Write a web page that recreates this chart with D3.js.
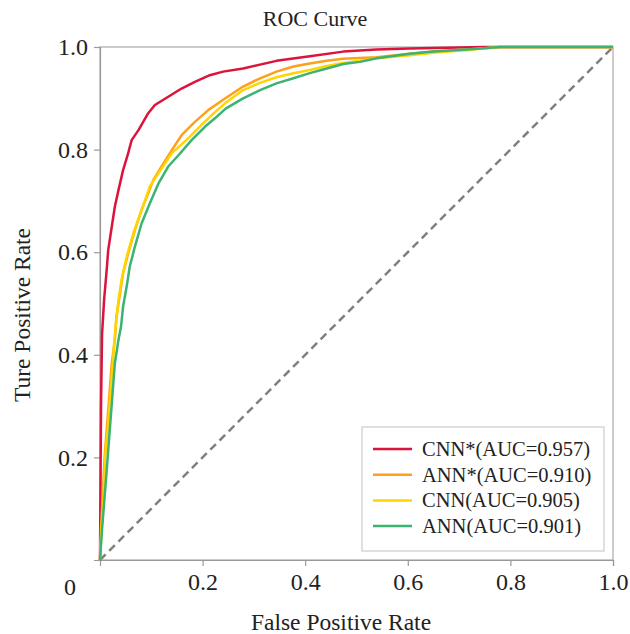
<!DOCTYPE html>
<html>
<head>
<meta charset="utf-8">
<script src="https://cdn.jsdelivr.net/npm/d3@7"></script>
<style>
  body { margin: 0; background: #fff; }
  text { font-family: "Liberation Serif", "DejaVu Serif", serif; fill: #222; }
</style>
</head>
<body>
<svg id="roc" width="630" height="634"></svg>
<script>
// ROC points: [false positive rate, true positive rate]
var cnnStar = [[0,0],[0.001,0.15],[0.002,0.30],[0.004,0.44],[0.008,0.507],[0.013,0.565],[0.016,0.604],
    [0.023,0.65],[0.029,0.689],[0.036,0.721],[0.045,0.76],[0.055,0.793],[0.058,0.805],[0.062,0.819],[0.075,0.838],
    [0.094,0.871],[0.107,0.887],[0.133,0.903],[0.159,0.919],[0.185,0.932],[0.214,0.945],[0.24,0.952],
    [0.279,0.958],[0.344,0.973],[0.409,0.982],[0.474,0.991],[0.539,0.995],[0.604,0.997],[0.70,0.999],
    [0.75,1],[1,1]];
var annStar = [[0,0],[0.002,0.06],[0.005,0.12],[0.009,0.2],[0.013,0.253],[0.018,0.318],[0.023,0.384],
    [0.029,0.429],[0.032,0.474],[0.039,0.52],[0.045,0.559],[0.055,0.598],[0.068,0.643],[0.081,0.682],
    [0.094,0.715],[0.104,0.741],[0.12,0.767],[0.14,0.799],[0.159,0.828],[0.185,0.854],[0.211,0.877],
    [0.24,0.897],[0.279,0.923],[0.312,0.939],[0.344,0.952],[0.377,0.962],[0.409,0.968],[0.442,0.973],
    [0.474,0.977],[0.539,0.98],[0.604,0.987],[0.65,0.991],[0.715,0.995],[0.78,1],[1,1]];
var cnnPlain = [[0,0],[0.003,0.06],[0.007,0.12],[0.01,0.2],[0.015,0.253],[0.02,0.318],[0.025,0.384],
    [0.028,0.429],[0.031,0.461],[0.036,0.507],[0.042,0.546],[0.052,0.591],[0.065,0.637],[0.081,0.682],
    [0.097,0.728],[0.118,0.76],[0.14,0.793],[0.172,0.822],[0.198,0.848],[0.222,0.871],[0.247,0.893],
    [0.279,0.916],[0.312,0.93],[0.344,0.941],[0.377,0.949],[0.409,0.955],[0.442,0.963],[0.474,0.969],
    [0.507,0.973],[0.539,0.978],[0.604,0.984],[0.65,0.989],[0.715,0.994],[0.78,1],[1,1]];
var annPlain = [[0,0],[0.004,0.06],[0.009,0.123],[0.015,0.2],[0.019,0.253],[0.024,0.318],[0.029,0.384],
    [0.036,0.429],[0.041,0.455],[0.045,0.494],[0.052,0.533],[0.058,0.572],[0.068,0.611],[0.081,0.656],
    [0.097,0.695],[0.114,0.734],[0.133,0.767],[0.153,0.789],[0.179,0.819],[0.205,0.845],[0.224,0.861],
    [0.245,0.88],[0.279,0.9],[0.312,0.916],[0.344,0.929],[0.377,0.939],[0.409,0.949],[0.442,0.958],
    [0.474,0.967],[0.507,0.971],[0.539,0.978],[0.604,0.987],[0.65,0.991],[0.715,0.995],[0.78,1],[1,1]];

var seriesNames = ["CNN*(AUC=0.957)", "ANN*(AUC=0.910)", "CNN(AUC=0.905)", "ANN(AUC=0.901)"];
var seriesColors = ["#dc143c", "#ffa01c", "#ffd500", "#3cb371"];
var seriesData = [cnnStar, annStar, cnnPlain, annPlain];
var tickValues = [0.2, 0.4, 0.6, 0.8, 1.0];

var margin = { top: 47, right: 17, bottom: 74, left: 100 },
    width = 630 - margin.left - margin.right,
    height = 634 - margin.top - margin.bottom;

var svg = d3.select("#roc")
    .append("g")
    .attr("transform", "translate(" + margin.left + "," + margin.top + ")");

var x = d3.scaleLinear().domain([0, 1]).range([0, width]);
var y = d3.scaleLinear().domain([0, 1]).range([height, 0]);

// frame (top and right edges)
svg.append("rect")
    .attr("x", 0).attr("y", 0)
    .attr("width", width).attr("height", height)
    .attr("fill", "none")
    .attr("stroke", "#aaa")
    .attr("stroke-width", 1.2);

var xAxis = svg.append("g")
    .attr("transform", "translate(0," + height + ")")
    .call(d3.axisBottom(x).tickValues(tickValues).tickFormat(d3.format(".1f")).tickSizeOuter(0).tickSize(6).tickPadding(7));

var yAxis = svg.append("g")
    .call(d3.axisLeft(y).tickValues(tickValues).tickFormat(d3.format(".1f")).tickSizeOuter(0).tickSize(6).tickPadding(6));

[xAxis, yAxis].forEach(function(ax) {
    ax.attr("font-family", null);
    ax.selectAll(".domain, .tick line").attr("stroke", "#999").attr("stroke-width", 1.2);
    ax.selectAll(".tick text")
        .style("font-family", "'Liberation Serif', serif")
        .style("font-size", "24px")
        .attr("fill", "#222");
});

// shared origin label
svg.append("text")
    .attr("x", -30)
    .attr("y", height + 35)
    .attr("text-anchor", "middle")
    .style("font-size", "24px")
    .text("0");

// chance diagonal
svg.append("line")
    .attr("x1", x(0)).attr("y1", y(0))
    .attr("x2", x(1)).attr("y2", y(1))
    .attr("stroke", "#808080")
    .attr("stroke-width", 2.5)
    .attr("stroke-dasharray", "8,5");

var line = d3.line()
    .x(d => x(d[0]))
    .y(d => y(d[1]));

svg.selectAll(".roc-line")
    .data(seriesData)
    .enter().append("path")
    .attr("class", "roc-line")
    .attr("d", line)
    .attr("fill", "none")
    .attr("stroke", (d, i) => seriesColors[i])
    .attr("stroke-width", 2.5)
    .attr("stroke-linejoin", "round");

// titles
svg.append("text")
    .attr("x", 215)
    .attr("y", -21)
    .attr("text-anchor", "middle")
    .style("font-size", "22px")
    .text("ROC Curve");

svg.append("text")
    .attr("x", 241)
    .attr("y", height + 70)
    .attr("text-anchor", "middle")
    .style("font-size", "23.5px")
    .text("False Positive Rate");

svg.append("text")
    .attr("transform", "rotate(-90)")
    .attr("x", -(315 - margin.top))
    .attr("y", -70)
    .attr("text-anchor", "middle")
    .style("font-size", "23.5px")
    .text("Ture Positive Rate");

// legend
var legend = svg.append("g")
    .attr("transform", "translate(" + (362 - margin.left) + "," + (427 - margin.top) + ")");

legend.append("rect")
    .attr("width", 242)
    .attr("height", 124)
    .attr("fill", "#fff")
    .attr("stroke", "#ccc")
    .attr("stroke-width", 1.2);

var rows = legend.selectAll(".legend-row")
    .data(seriesNames)
    .enter().append("g")
    .attr("class", "legend-row")
    .attr("transform", (d, i) => "translate(0," + (22 + i * 25.7) + ")");

rows.append("line")
    .attr("x1", 11).attr("x2", 50)
    .attr("y1", 0).attr("y2", 0)
    .attr("stroke", (d, i) => seriesColors[i])
    .attr("stroke-width", 2.5);

rows.append("text")
    .attr("x", 60)
    .attr("y", 7)
    .style("font-size", "20.5px")
    .text(d => d);
</script>
</body>
</html>
